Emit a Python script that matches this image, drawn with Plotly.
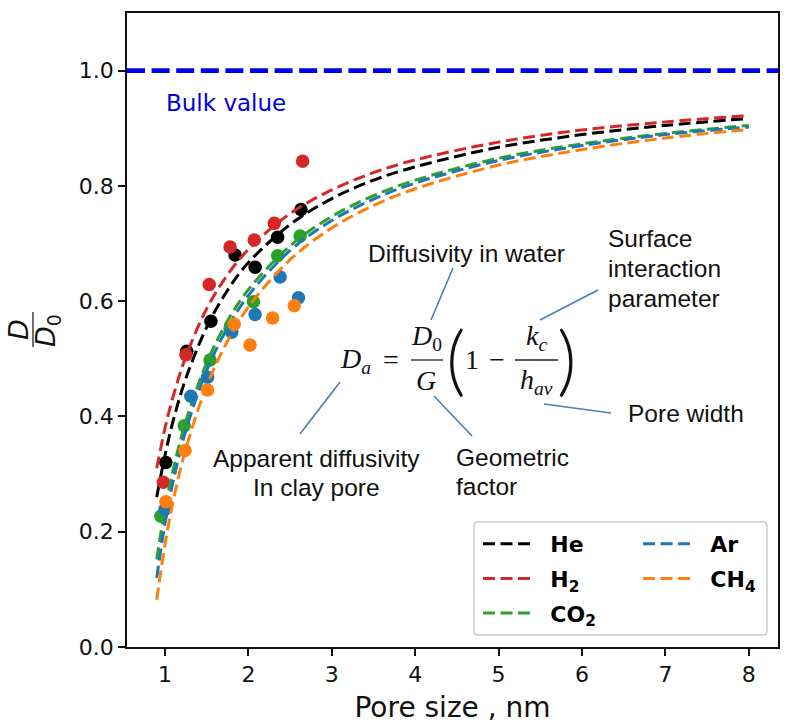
import plotly.graph_objects as go

# pore size grid for the fitted curves
curve_x = [0.9, 1, 1.1, 1.25, 1.5, 1.75, 2, 2.5, 3, 3.5, 4, 5, 6, 7, 8]

he_curve = [0.26, 0.333, 0.394, 0.466, 0.555, 0.619, 0.667, 0.733, 0.778, 0.81, 0.833, 0.867, 0.889, 0.905, 0.917]
h2_curve = [0.31, 0.38, 0.436, 0.504, 0.587, 0.646, 0.69, 0.752, 0.793, 0.823, 0.845, 0.876, 0.897, 0.911, 0.922]
co2_curve = [0.152, 0.24, 0.309, 0.392, 0.493, 0.566, 0.62, 0.696, 0.747, 0.783, 0.81, 0.848, 0.873, 0.891, 0.905]
ar_curve = [0.12, 0.215, 0.289, 0.376, 0.48, 0.554, 0.61, 0.688, 0.74, 0.777, 0.805, 0.844, 0.87, 0.889, 0.902]
ch4_curve = [0.082, 0.178, 0.255, 0.344, 0.453, 0.531, 0.59, 0.672, 0.727, 0.766, 0.795, 0.836, 0.863, 0.883, 0.898]

# measured points
he_x = [1.01, 1.26, 1.55, 1.84, 2.08, 2.35, 2.63]
he_y = [0.320, 0.513, 0.565, 0.680, 0.659, 0.711, 0.759]
h2_x = [0.98, 1.25, 1.53, 1.78, 2.07, 2.31, 2.65]
h2_y = [0.286, 0.507, 0.629, 0.694, 0.706, 0.735, 0.843]
co2_x = [0.95, 1.23, 1.54, 1.78, 2.06, 2.35, 2.62]
co2_y = [0.227, 0.384, 0.498, 0.553, 0.599, 0.679, 0.713]
ar_x = [1.0, 1.31, 1.51, 1.80, 2.08, 2.38, 2.60]
ar_y = [0.239, 0.435, 0.468, 0.546, 0.577, 0.642, 0.606]
ch4_x = [1.01, 1.24, 1.51, 1.83, 2.02, 2.29, 2.55]
ch4_y = [0.252, 0.341, 0.446, 0.560, 0.524, 0.571, 0.592]

x_range = [0.544, 8.35]
y_range = [0, 1.1]
bulk_x = x_range
bulk_y = [1.0, 1.0]

W, H = 791, 727
L, R, T, B = 127, 778, 13, 647

gases = [
    ("He", "black", he_x, he_y, he_curve, "legend"),
    ("H<sub>2</sub>", "#d62728", h2_x, h2_y, h2_curve, "legend"),
    ("CO<sub>2</sub>", "#2ca02c", co2_x, co2_y, co2_curve, "legend"),
    ("Ar", "#1f77b4", ar_x, ar_y, ar_curve, "legend2"),
    ("CH<sub>4</sub>", "#ff7f0e", ch4_x, ch4_y, ch4_curve, "legend2"),
]


# image pixels to paper fractions, for the drawn-on notes
def px(x):
    return (x - L) / (R - L)


def py(y):
    return (B - y) / (B - T)


fig = go.Figure()

for name, color, xs, ys, curve, leg in gases:
    fig.add_trace(go.Scatter(x=xs, y=ys, mode="markers", showlegend=False,
                             marker=dict(color=color, size=13.5)))
    fig.add_trace(go.Scatter(x=curve_x, y=curve, mode="lines", name=f"<b>&nbsp;&nbsp;{name}</b>",
                             legend=leg, legendgroup=name,
                             line=dict(color=color, width=3, dash="12px,5.5px", shape="spline")))

fig.add_trace(go.Scatter(x=bulk_x, y=bulk_y, mode="lines", showlegend=False,
                         line=dict(color="#0000ee", width=4.6, dash="18px,6.6px")))

annotations = []


def note(x, y, text, size=24.5, family="Liberation Sans", color="#111111", anchor="center", angle=0, weight=None):
    font = dict(family=family, size=size, color=color)
    if weight:
        font["weight"] = weight
    annotations.append(dict(x=px(x), y=py(y), xref="paper", yref="paper", text=text, showarrow=False,
                            xanchor=anchor, yanchor="middle", textangle=angle, align="center", font=font))


note(226, 103, "Bulk value", size=23, family="DejaVu Sans", color="#0000dd")
note(466, 254, "Diffusivity in water")
note(606, 238, "Surface", anchor="left")
note(606, 268, "interaction", anchor="left")
note(606, 298, "parameter", anchor="left")
note(686, 413, "Pore width")
note(316, 458, "Apparent diffusivity")
note(316, 487, "In clay pore")
note(454, 457, "Geometric", anchor="left")
note(454, 486, "factor", anchor="left")

# equation
serif = "Liberation Serif"
note(355, 361, "<i>D<sub>a</sub></i>", size=28, family=serif)
note(391, 360, "=", size=28, family=serif)
note(426, 338, "<i>D</i><sub>0</sub>", size=28, family=serif)
note(426, 381, "<i>G</i>", size=28, family=serif)
note(456, 357, "(", size=76, family="Lato", weight=300)
note(472, 360, "1", size=28, family=serif)
note(497, 360, "\u2212", size=28, family=serif)
note(536, 338, "<i>k<sub>c</sub></i>", size=28, family=serif)
note(536, 382, "<i>h<sub>av</sub></i>", size=28, family=serif)
note(567, 357, ")", size=76, family="Lato", weight=300)

# y axis title as a stacked fraction
note(18, 330, "<i>D</i>", size=27, family="DejaVu Sans", angle=-90)
note(47, 331, "<i>D</i><sub>0</sub>", size=27, family="DejaVu Sans", angle=-90)

leaders = [
    (431, 320, 453, 268),
    (540, 320, 598, 290),
    (544, 404, 611, 413),
    (434, 396, 472, 436),
    (340, 382, 300, 434),
]
shapes = [dict(type="line", xref="paper", yref="paper", x0=px(a), y0=py(b), x1=px(c), y1=py(d),
               line=dict(color="#4a7ebb", width=1.6)) for a, b, c, d in leaders]
shapes += [dict(type="line", xref="paper", yref="paper", x0=px(a), y0=py(360), x1=px(c), y1=py(360),
                line=dict(color="#222222", width=1.3)) for a, c in [(411, 443), (515, 558)]]
shapes.append(dict(type="line", xref="paper", yref="paper", x0=px(33), y0=py(312), x1=px(33), y1=py(347),
                   line=dict(color="#222222", width=1.3)))

# rounded legend frame
x0, x1, y0, y1, r = 474, 767, 522, 635, 4
path = (f"M {px(x0 + r)} {py(y0)} L {px(x1 - r)} {py(y0)} Q {px(x1)} {py(y0)} {px(x1)} {py(y0 + r)} "
        f"L {px(x1)} {py(y1 - r)} Q {px(x1)} {py(y1)} {px(x1 - r)} {py(y1)} "
        f"L {px(x0 + r)} {py(y1)} Q {px(x0)} {py(y1)} {px(x0)} {py(y1 - r)} "
        f"L {px(x0)} {py(y0 + r)} Q {px(x0)} {py(y0)} {px(x0 + r)} {py(y0)} Z")
shapes.append(dict(type="path", xref="paper", yref="paper", path=path, fillcolor="white",
                   line=dict(color="#cccccc", width=1.5), layer="above"))

axis = dict(showline=True, mirror=True, linecolor="#111111", linewidth=1.8, showgrid=False, zeroline=False,
            ticks="outside", ticklen=7, tickwidth=1.5, tickcolor="#111111", automargin=False,
            tickfont=dict(family="DejaVu Sans", size=22, color="#111111"))

legend_style = dict(xanchor="left", yanchor="top", bgcolor="rgba(0,0,0,0)", itemwidth=47, tracegroupgap=3,
                    font=dict(family="DejaVu Sans", size=22, color="black"))

fig.update_layout(
    width=W, height=H,
    margin=dict(l=L, r=W - R, t=T, b=H - B),
    paper_bgcolor="white", plot_bgcolor="white",
    font=dict(family="DejaVu Sans"),
    xaxis=dict(axis, range=x_range, tickvals=list(range(1, 9)),
               title=dict(text="Pore size , nm", font=dict(size=28, color="#111111"), standoff=11)),
    yaxis=dict(axis, range=y_range, tickvals=[0, 0.2, 0.4, 0.6, 0.8, 1.0], tickformat=".1f"),
    legend=dict(legend_style, x=px(478), y=py(523)),
    legend2=dict(legend_style, x=px(638), y=py(523)),
    annotations=annotations,
    shapes=shapes,
)

fig.write_html("out.html", config=dict(displayModeBar=False), post_script="document.body.style.margin='0';")
